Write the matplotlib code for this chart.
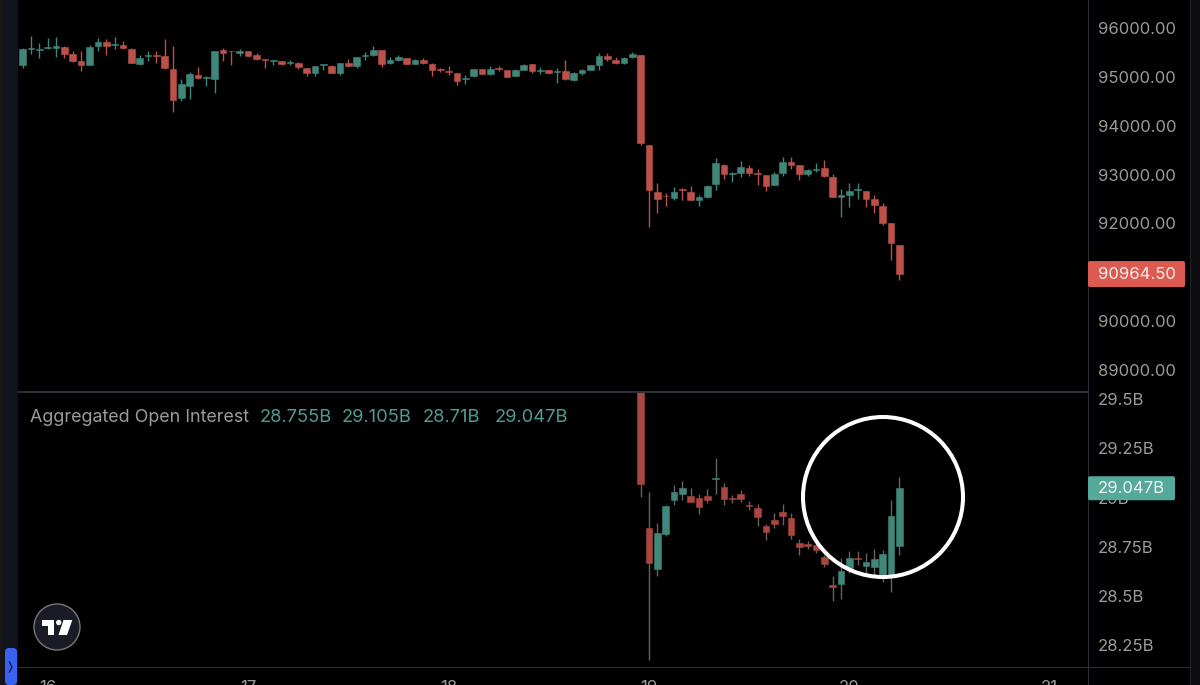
import matplotlib
matplotlib.use("Agg")
import matplotlib.pyplot as plt
from matplotlib.patches import Circle, Rectangle, FancyBboxPatch, Polygon
from matplotlib.transforms import IdentityTransform

# ---- price candles (hourly) ----
price_open = [95236,95564,95550,95584,95591,95611,95475,95318,95243,95639,95720,95659,95659,95570,95270,95427,95448,95427,95168,94574,94820,95045,94984,94956,95543,95536,95489,95523,95441,95359,95332,95332,95291,95291,95175,95072,95243,
95229,95072,95283,95229,95427,95447,95543,95283,95345,95393,95270,95352,95270,95154,95113,95079,94949,95011,95154,95058,95174,95140,95017,95147,95256,95127,95140,95092,95127,94936,95072,95140,95243,95427,95338,95277,95406,95440,
93605,92650,92568,92527,92697,92643,92486,92547,92807,93189,93005,93032,93141,93032,92991,92793,93025,93264,93189,93011,93100,93127,92957,92541,92588,92684,92657,92500,92363,92002,91551]
price_high = [95584,95843,95686,95796,95823,95632,95536,95536,95645,95789,95768,95809,95741,95584,95441,95536,95536,95768,95625,94956,95093,95195,95018,95523,95584,95536,95564,95536,95489,95359,95345,95332,95352,95311,95188,95216,95257,
95243,95283,95359,95413,95502,95632,95543,95413,95447,95393,95365,95379,95277,95181,95215,95079,95038,95167,95154,95222,95215,95140,95154,95263,95270,95195,95147,95188,95338,95092,95154,95249,95481,95488,95406,95406,95502,95440,
93605,92834,92629,92752,92718,92766,92588,92793,93332,93209,93052,93271,93189,93107,92991,93045,93366,93366,93202,93121,93237,93291,93011,92697,92820,92820,92663,92588,92418,92002,91551]
price_low = [95188,95468,95393,95564,95400,95379,95311,95127,95236,95523,95454,95577,95577,95277,95243,95325,95277,95168,94281,94499,94547,94950,94820,94663,95318,95236,95420,95420,95345,95175,95243,95243,95250,95168,95025,95011,95147,
95072,95045,95209,95188,95338,95434,95195,95270,95324,95263,95263,95256,95024,95099,95045,94840,94860,95004,95052,95038,95113,94997,95011,95133,95072,95052,95065,94881,94942,94908,95045,95133,95147,95324,95263,95270,95386,93605,
91933,92206,92363,92479,92479,92479,92363,92527,92684,92909,92854,92950,92970,92779,92670,92786,92977,93107,92889,92977,93045,92957,92534,92124,92329,92500,92329,92213,91961,91251,90842]
price_close = [95564,95591,95577,95618,95639,95468,95325,95236,95618,95714,95625,95680,95591,95284,95386,95448,95434,95175,94533,94847,95052,94984,95004,95523,95489,95523,95523,95434,95366,95338,95345,95270,95311,95209,95072,95216,95257,
95086,95283,95222,95406,95447,95550,95270,95338,95406,95270,95352,95277,95140,95133,95092,94922,94983,95154,95058,95154,95154,95004,95147,95236,95127,95140,95072,95120,94956,95079,95133,95236,95420,95359,95277,95393,95461,93653,
92677,92506,92554,92636,92677,92486,92547,92773,93237,93005,93032,93155,93039,93011,92766,93018,93257,93196,93018,93086,93121,92964,92541,92588,92657,92704,92506,92377,92015,91592,90958]

# ---- aggregated open interest candles, in billions, start at the price drop ----
oi_start = 74
oi_open = [29.900,28.845,28.637,28.816,28.987,29.019,29.009,28.999,29.009,29.094,29.052,28.997,29.019,28.962,28.945,28.854,28.884,28.925,28.894,28.769,28.762,28.759,28.700,28.556,28.561,28.640,28.695,28.652,28.649,28.610,28.610,28.755]
oi_high = [30.000,29.028,28.869,28.963,29.065,29.082,29.046,29.018,29.041,29.199,29.075,29.011,29.036,28.984,28.965,28.864,28.920,28.965,28.920,28.791,28.781,28.764,28.708,28.601,28.691,28.727,28.730,28.717,28.737,28.733,28.987,29.105]
oi_low = [29.001,28.175,28.601,28.806,28.960,28.987,28.975,28.916,28.970,29.018,28.960,28.970,28.977,28.936,28.857,28.786,28.845,28.862,28.789,28.708,28.739,28.720,28.649,28.476,28.483,28.615,28.657,28.618,28.598,28.573,28.522,28.710]
oi_close = [29.069,28.666,28.821,28.955,29.026,29.046,28.979,28.950,28.987,29.101,28.992,28.992,28.991,28.957,28.903,28.823,28.865,28.908,28.811,28.750,28.755,28.733,28.662,28.547,28.627,28.691,28.689,28.674,28.686,28.713,28.906,29.047]

price_ticks = [89000,90000,92000,93000,94000,95000,96000]
oi_ticks = [28.25,28.5,28.75,29.0,29.25,29.5]
oi_tick_labels = ["28.25B","28.5B","28.75B","29B","29.25B","29.5B"]
day_positions = [3,27,51,75,99,123]
day_labels = ["16","17","18","19","20","21"]
last_price = 90964.50
last_oi = 29.047
oi_legend = ["28.755B","29.105B","28.71B","29.047B"]
oi_legend_x = [260,342,423,495]

W, H = 1200, 685
FONT = "Inter"
RED, GREEN = "#bb5149", "#40867a"
RED2 = "#a9463f"
GRID = "#2e2e36"
TXT = "#9b9b9b"
TICK_SIZE = 12.0
fig = plt.figure(figsize=(W/100, H/100), dpi=100, facecolor="#000000")

def axpix(l, t, r, b):
    return fig.add_axes([l/W, 1-b/H, (r-l)/W, (b-t)/H], facecolor="#000000")

ax1 = axpix(18, 0, 1088, 391.5)
ax2 = axpix(18, 392.5, 1088, 667)
xlim = ((18-22.7)/8.35, (1088-22.7)/8.35)

def candles(ax, xs, o, h, l, c, up, down, wick_up, wick_down):
    for x, a, b, d, e in zip(xs, o, h, l, c):
        rising = e >= a
        ax.vlines(x, d, b, color=wick_up if rising else wick_down, lw=1.0, zorder=2)
        col = up if rising else down
        ax.bar(x, abs(e-a), bottom=min(a, e), width=0.8,
               color=col, edgecolor=col, lw=0.4, zorder=3)

candles(ax1, range(len(price_open)), price_open, price_high, price_low, price_close,
        GREEN, RED, GREEN, RED)
xs2 = [oi_start+i for i in range(len(oi_open))]
candles(ax2, xs2, oi_open, oi_high, oi_low, oi_close, GREEN, RED2, "#5f6462", "#6a5f5d")

ax1.set_xlim(*xlim); ax2.set_xlim(*xlim)
# price scale: 96000 -> y 28, 89000 -> y 370
ax1.set_ylim(96000-(391.5-28)/0.04886, 96000+28/0.04886)
# oi scale: 29.5 -> y 399, 28.25 -> y 645.3
ax2.set_ylim(29.5-(667-399)/197.0, 29.5+(399-392.5)/197.0)

for ax in (ax1, ax2):
    for s in ax.spines.values():
        s.set_visible(False)
    ax.set_xticks([]); ax.yaxis.tick_right()
    ax.tick_params(axis="y", length=0, pad=7, labelcolor=TXT, labelsize=TICK_SIZE)

ax1.set_yticks(price_ticks, [f"{v:.2f}" for v in price_ticks], family=FONT)
ax2.set_yticks(oi_ticks, oi_tick_labels, family=FONT, clip_on=False)

# day labels cut by the lower edge
for p, s in zip(day_positions, day_labels):
    ax2.annotate(s, xy=(p, 0), xycoords=("data", "axes fraction"), xytext=(0, -9.5),
                 textcoords="offset points", ha="center", va="top", color=TXT,
                 fontsize=TICK_SIZE, family=FONT, annotation_clip=False)

it = IdentityTransform()
def px(x, y):
    return (x, H-y)
def rect(l, t, r, b, c, z=5):
    fig.add_artist(Rectangle(px(l, b), r-l, b-t, transform=it, fc=c, ec="none", zorder=z))

# separators
rect(0, 391, 1088, 392.5, GRID)
rect(18, 666.5, 1200, 667.8, GRID)
rect(1087.5, 0, 1088.8, 685, GRID)
rect(1190.5, 0, 1200, 685, "#0d0d0f")
rect(1190, 0, 1191, 685, "#222226")
# left strip
rect(0, 0, 3, 685, "#161618")
rect(3, 0, 17.5, 685, "#11141d")

# price tags
def tag(ypix, text, color, r, h):
    fig.add_artist(FancyBboxPatch(px(1088, ypix+h/2), r-1088, h,
                   boxstyle="round,pad=0,rounding_size=2", transform=it, fc=color, ec="none", zorder=6))
    fig.text(1098/W, 1-(ypix+0.5)/H, text, color="#f2f2f2", fontsize=TICK_SIZE, family=FONT,
             va="center", ha="left", zorder=7)
tag(H-ax1.transData.transform((0, last_price))[1], f"{last_price:.2f}", "#dc5a50", 1185, 26)
tag(H-ax2.transData.transform((0, last_oi))[1], f"{last_oi:.3f}B", "#55a99b", 1175, 24)

# legend
fig.text(30/W, 1-417/H, "Aggregated Open Interest", color=TXT, fontsize=12.9, family=FONT, va="center", zorder=7)
for x, s in zip(oi_legend_x, oi_legend):
    fig.text(x/W, 1-417/H, s, color="#4f9c8f", fontsize=13.2, family=FONT, va="center", zorder=7)

# hand-drawn circle
fig.add_artist(Circle(px(883, 497), 80, transform=it, fc="none", ec="white", lw=2.9, zorder=8))

# logo
fig.add_artist(Circle(px(57, 627), 23, transform=it, fc="#1a1c25", ec="#77777c", lw=1.0, zorder=6))
fig.add_artist(Polygon([px(42.3, 620), px(54, 620), px(54, 635), px(47.7, 635), px(47.7, 626), px(42.3, 626)],
                       transform=it, fc="white", ec="none", zorder=7))
fig.add_artist(Circle(px(58.7, 622.5), 2.7, transform=it, fc="white", ec="none", zorder=7))
fig.add_artist(Polygon([px(63.5, 620), px(72.3, 620), px(67, 635), px(58.5, 635)],
                       transform=it, fc="white", ec="none", zorder=7))

# collapse pill
fig.add_artist(FancyBboxPatch(px(5, 685), 12, 37, boxstyle="round,pad=0,rounding_size=4",
                              transform=it, fc="#3a62f2", ec="none", zorder=6))
fig.add_artist(plt.Line2D([9.5, 12, 9.5], [H-662, H-667, H-672], transform=it, color="#10204f", lw=1.0, zorder=7))

fig.savefig("out.png", dpi=100, facecolor="#000000")
